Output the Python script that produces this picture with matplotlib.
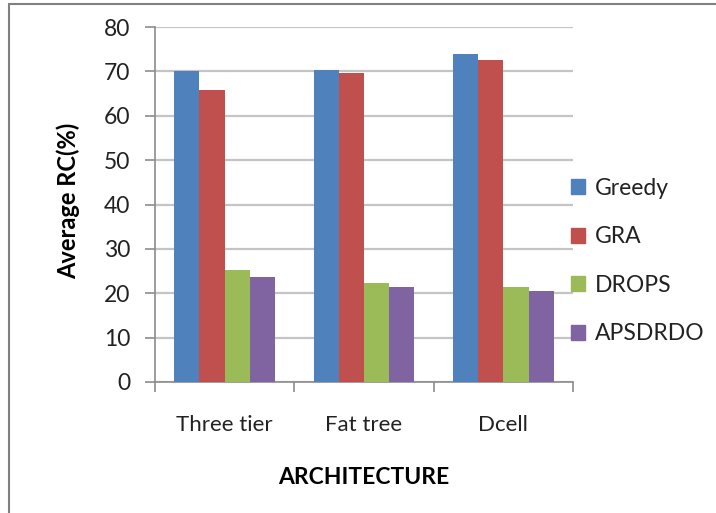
import matplotlib.pyplot as plt
import numpy as np
from matplotlib.patches import Rectangle, Patch

plt.rcParams["font.family"] = ["Lato", "DejaVu Sans"]

# données
architectures = ["Three tier", "Fat tree", "Dcell"]
methodes = ["Greedy", "GRA", "DROPS", "APSDRDO"]
greedy = [70.0, 70.3, 73.9]
gra = [65.8, 69.6, 72.5]
drops = [25.3, 22.4, 21.5]
apsdrdo = [23.7, 21.5, 20.6]
yticks = [0, 10, 20, 30, 40, 50, 60, 70, 80]

couleurs = ["#4F81BD", "#C0504D", "#9BBB59", "#8064A2"]
series = [greedy, gra, drops, apsdrdo]

fig = plt.figure(figsize=(7.16, 5.13), dpi=100)
ax = fig.add_axes([155/716, 1-382/513, 418/716, 355/513])

x = np.arange(len(architectures))
largeur = 0.181
for i, vals in enumerate(series):
    ax.bar(x + (i - 1.5)*largeur, vals, largeur, color=couleurs[i],
           edgecolor="none", zorder=3)

ax.set_xlim(-0.5, 2.5)
ax.set_ylim(0, 80)
ax.set_yticks(yticks)
ax.grid(axis="y", color="#c4c4c4", lw=1.6, zorder=0)

for s in ["top", "right"]:
    ax.spines[s].set_visible(False)
for s in ["left", "bottom"]:
    ax.spines[s].set_color("#8c8c8c")
    ax.spines[s].set_linewidth(1.2)

ax.tick_params(axis="y", length=7, width=1.2, color="#8c8c8c", pad=11,
               labelsize=16.5, labelcolor="#222222")
ax.set_xticks(x)
ax.set_xticklabels(architectures)
ax.set_xticks([-0.5, 0.5, 1.5, 2.5], minor=True)
ax.tick_params(axis="x", which="major", length=0, pad=24, labelsize=16,
               labelcolor="#222222")
ax.tick_params(axis="x", which="minor", length=7, width=1.2, color="#8c8c8c")

ax.set_xlabel("ARCHITECTURE", fontsize=16.5, fontweight="bold")
ax.xaxis.set_label_coords(0.5, -0.27)
ax.xaxis.label.set_va("center")
ax.set_ylabel("Average RC(%)", fontsize=17, fontweight="bold")
ax.yaxis.set_label_coords(-0.208, 0.51)
ax.yaxis.label.set_va("center")

# légende à droite
poignees = [Patch(color=c) for c in couleurs]
fig.legend(poignees, methodes, loc="center left",
           bbox_to_anchor=(571/716, 1-261/513), frameon=False,
           fontsize=16.5, handlelength=0.62, handleheight=0.62,
           handletextpad=0.42, labelspacing=1.2, borderpad=0,
           borderaxespad=0, labelcolor="#222222")

# cadre extérieur
fig.patches.append(Rectangle((9/716, -0.1), 1.2, 1 - 4/513 + 0.1,
                             transform=fig.transFigure, fill=False,
                             edgecolor="#808080", lw=1.5))

fig.savefig("out.png", dpi=100)
